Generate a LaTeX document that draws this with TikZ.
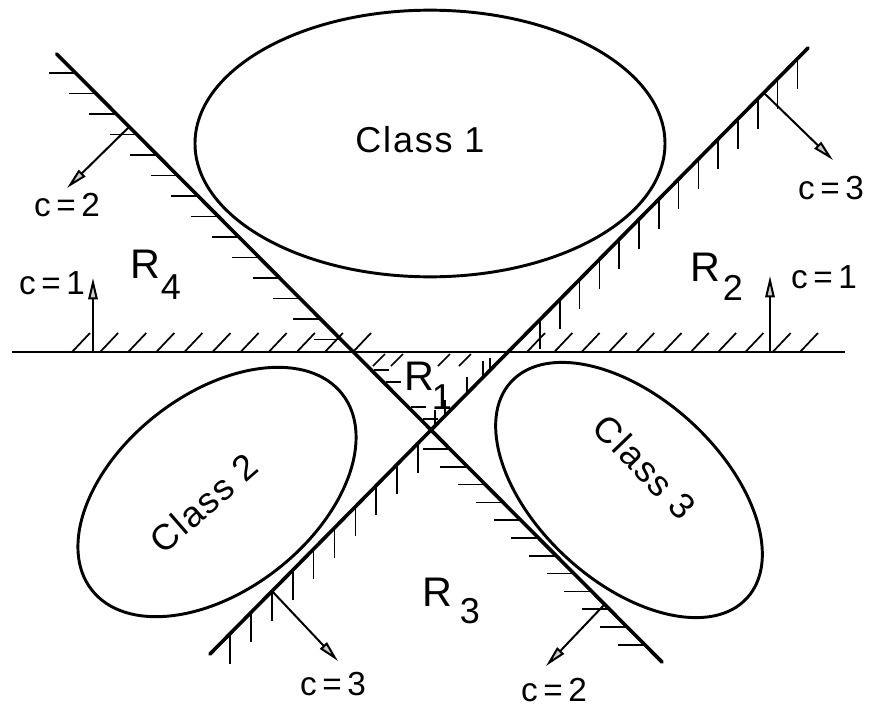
\documentclass[tikz,border=0pt]{standalone}
\usepackage{fontspec}
\setmainfont{Liberation Sans}
\newfontfamily\lettering[LetterSpace=5]{Liberation Sans}
\usetikzlibrary{arrows.meta,shapes.geometric}
\begin{document}
\begin{tikzpicture}[x=0.75pt,y=-0.75pt,
  bound/.style={line width=2.7pt, line cap=round},
  baseline/.style={line width=2pt},
  hatch/.style={line width=1.3pt},
  cls/.style={draw, ellipse, line width=2.2pt, inner sep=0pt},
  clstext/.style={font=\lettering\fontsize{27}{30}\selectfont, inner sep=0pt},
  normal/.style={line width=1.5pt, -{Triangle[length=16pt,width=7pt,fill=gray!40]}},
  lab/.style={font=\fontsize{25}{28}\selectfont, inner sep=0pt},
  rlab/.style={font=\fontsize{31}{34}\selectfont, inner sep=0pt},
  rsub/.style={font=\fontsize{27}{30}\selectfont, inner sep=0pt}]
\useasboundingbox (0,0) rectangle (872,711);

% class regions
\node[cls, minimum width=352.5pt, minimum height=200pt] (class1) at (430,143.5) {};
\node[cls, minimum width=238.5pt, minimum height=147pt, rotate=38] (class2) at (217,492) {};
\node[cls, minimum width=240pt, minimum height=138pt, rotate=-42.5] (class3) at (629,490) {};
\node[clstext] (t1) at (420,140) {Class 1};
\node[clstext, rotate=41] (t2) at (204,503) {Class 2};
\node[clstext, rotate=-46] (t3) at (645,467) {Class 3};

% boundary lines
\coordinate (L2a) at (56.7,54);  \coordinate (L2b) at (662,662);
\coordinate (L3a) at (808,48);   \coordinate (L3b) at (210,654);
\coordinate (Ha) at (12,352);    \coordinate (Hb) at (845,352);
\draw[bound] (L2a) -- (L2b);
\draw[bound] (L3a) -- (L3b);
\draw[baseline] (Ha) -- (Hb);

% hatching of the descending line (c=2)
\foreach \y in {73,93.5,...,340}
  \draw[hatch] ({56.7+(\y-54)/1.005},\y) -- ++(-27,0);
\foreach \y in {449,466.8,...,646}
  \draw[hatch] ({56.7+(\y-54)/1.005},\y) -- ++(-27,0);
\foreach \y in {370,382,407,419}
  \draw[hatch] ({59.7+(\y-54)/1.005},\y) -- ++(15,0);

% hatching of the ascending line (c=3)
\foreach \x in {540,559.8,...,798}
  \draw[hatch] (\x,{48+(808-\x)*1.013}) -- ++(0,30);
\foreach \x in {230,250.9,...,419}
  \draw[hatch] (\x,{48+(808-\x)*1.013}) -- ++(0,30);
\foreach \x/\l in {490/12,483/16,467/16,445/16,435/16}
  \draw[hatch] (\x,{48+(808-\x)*1.013}) -- ++(0,-\l);

% hatching of the horizontal line (c=1)
\foreach \b in {72,100.1,...,354}
  \draw[hatch] (\b,352) -- ++(18,-19);
\foreach \b in {527,554.3,...,801}
  \draw[hatch] (\b,352) -- ++(18,-19);
\foreach \b in {373,391,438,459}
  \draw[hatch] (\b,366) -- ++(12,-12);

% normal arrows
\coordinate (n1s) at (129,127);  \coordinate (n1e) at (67,188);
\coordinate (n2s) at (93,352);   \coordinate (n2e) at (93,278);
\coordinate (n3s) at (764,93);   \coordinate (n3e) at (833,160);
\coordinate (n4s) at (770,352);  \coordinate (n4e) at (770,276);
\coordinate (n5s) at (272,591);  \coordinate (n5e) at (338,661);
\coordinate (n6s) at (604,605);  \coordinate (n6e) at (546,666);
\draw[normal] (n1s) -- (n1e);
\draw[normal] (n2s) -- (n2e);
\draw[normal] (n3s) -- (n3e);
\draw[normal] (n4s) -- (n4e);
\draw[normal] (n5s) -- (n5e);
\draw[normal] (n6s) -- (n6e);

% labels
\node[lab] (l1) at (67,205) {c\,=\,2};
\node[lab] (l2) at (52,283) {c\,=\,1};
\node[lab] (l3) at (831,188) {c\,=\,3};
\node[lab] (l4) at (824,277) {c\,=\,1};
\node[lab] (l5) at (333,684) {c\,=\,3};
\node[lab] (l6) at (554,690) {c\,=\,2};

\node[rlab] (r4) at (145,264) {R};  \node[rsub] (r4s) at (171,287) {4};
\node[rlab] (r2) at (705,267) {R};  \node[rsub] (r2s) at (733,288) {2};
\node[rlab] (r1) at (419,376) {R};  \node[rsub] (r1s) at (442,397) {1};
\node[rlab] (r3) at (437,592) {R};  \node[rsub] (r3s) at (470,611) {3};
\end{tikzpicture}
\end{document}
